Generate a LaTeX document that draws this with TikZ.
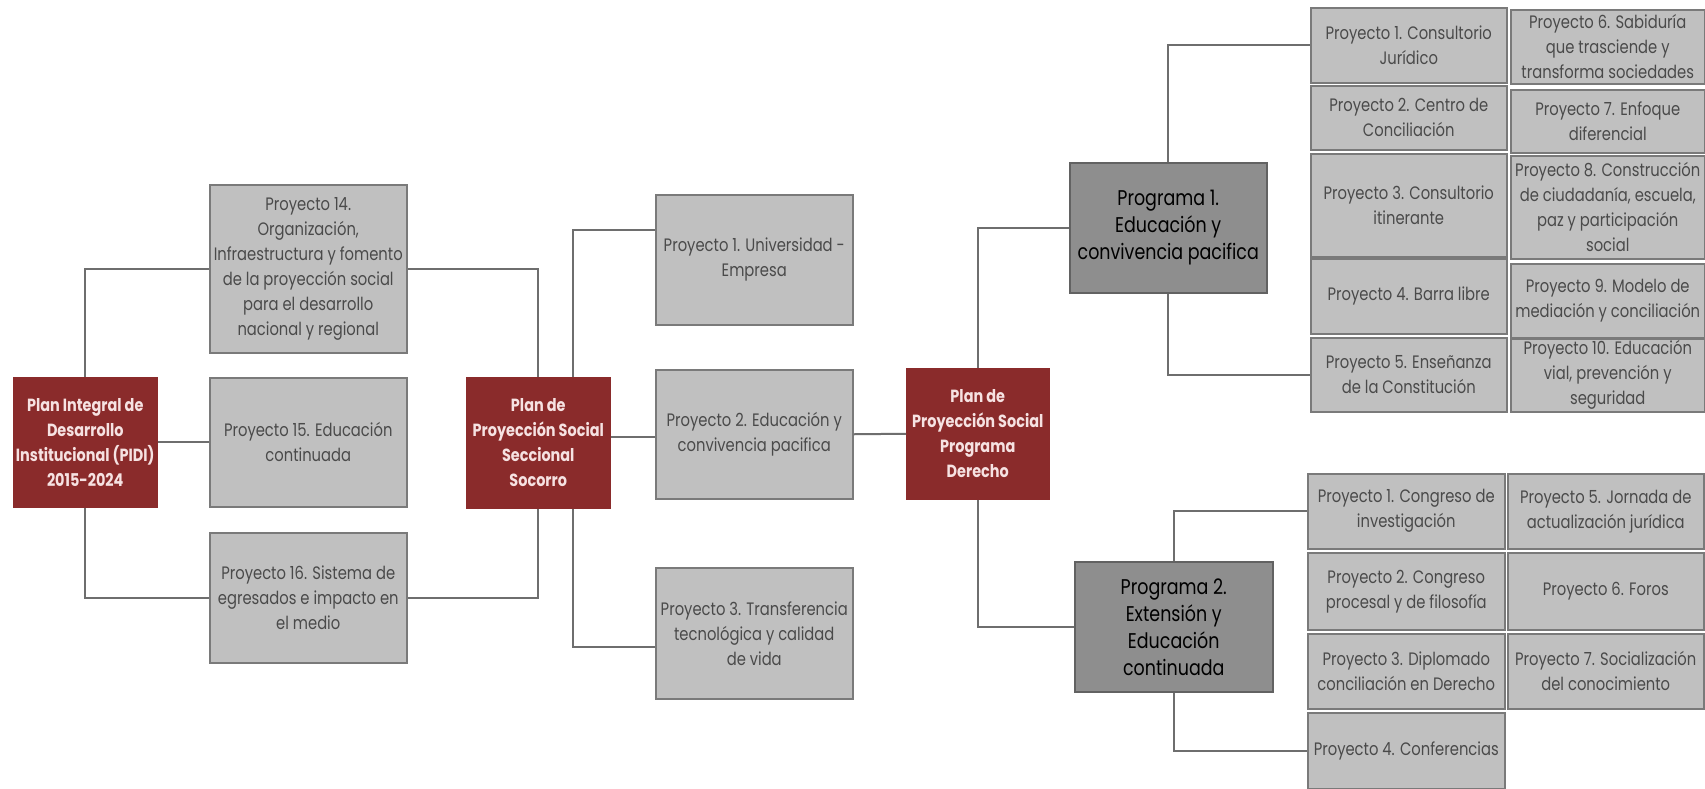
\documentclass[tikz,border=0pt]{standalone}
\usepackage{fontspec}
\setmainfont{Poppins}[FakeStretch=0.82]
\definecolor{maroon}{HTML}{8A2B2B}
\definecolor{pinkwhite}{HTML}{F6E2E2}
\definecolor{boxgray}{HTML}{C0C0C0}
\definecolor{boxedge}{HTML}{7A7A7A}
\definecolor{progray}{HTML}{8E8E8E}
\definecolor{lingray}{HTML}{6E6E6E}
\definecolor{projtext}{HTML}{4A4A4A}
\tikzset{
  base/.style={anchor=north west, inner sep=2pt, align=center, line width=1.5pt},
  proj/.style={base, fill=boxgray, draw=boxedge, text=projtext,
    font=\fontsize{18}{25}\selectfont},
  redbox/.style={base, fill=maroon, draw=maroon, text=pinkwhite,
    font=\fontsize{17.6}{25}\selectfont\bfseries},
  progbox/.style={base, fill=progray, draw=boxedge!80!black, text=black,
    font=\fontsize{21.3}{27}\selectfont},
  link/.style={draw=lingray, line width=2pt}
}
\newcommand{\bx}[6]{\node[#1, minimum width=#4pt, minimum height=#5pt] (#2) at (#3) {#6};}
\begin{document}
\begin{tikzpicture}[x=1pt,y=-1pt]
\useasboundingbox[fill=white] (0,0) rectangle (1705,788);
% level 1
\bx{redbox}{pidi}{13,377}{143}{129}{Plan Integral de\\Desarrollo\\Institucional (PIDI)\\2015-2024}
\bx{proj}{p14}{209,184}{197}{168}{Proyecto 14.\\Organización,\\Infraestructura y fomento\\de la proyección social\\para el desarrollo\\nacional y regional}
\bx{proj}{p15}{209,377}{197}{129}{Proyecto 15. Educación\\continuada}
\bx{proj}{p16}{209,532}{197}{130}{Proyecto 16. Sistema de\\egresados e impacto en\\el medio}
% level 2
\bx{redbox}{soc}{466,377}{143}{130}{Plan de\\Proyección Social\\Seccional\\Socorro}
\bx{proj}{u1}{655,194}{197}{130}{Proyecto 1. Universidad -\\Empresa}
\bx{proj}{u2}{655,369}{197}{129}{Proyecto 2. Educación y\\convivencia pacifica}
\bx{proj}{u3}{655,567}{197}{131}{Proyecto 3. Transferencia\\tecnológica y calidad\\de vida}
% level 3
\bx{redbox}{der}{906,368}{142}{130}{Plan de\\Proyección Social\\Programa\\Derecho}
\bx{progbox}{prog1}{1069,162}{197}{130}{Programa 1.\\Educación y\\convivencia pacifica}
\bx{progbox}{prog2}{1074,561}{198}{130}{Programa 2.\\Extensión y\\Educación\\continuada}
% programa 1 projects
\bx{proj}{a1}{1310,7}{196}{75}{Proyecto 1. Consultorio\\Jurídico}
\bx{proj}{a2}{1310,85}{196}{64}{Proyecto 2. Centro de\\Conciliación}
\bx{proj}{a3}{1310,153}{196}{103}{Proyecto 3. Consultorio\\itinerante}
\bx{proj}{a4}{1310,258}{196}{75}{Proyecto 4. Barra libre}
\bx{proj}{a5}{1310,337}{196}{74}{Proyecto 5. Enseñanza\\de la Constitución}
\bx{proj}{b6}{1510,9}{194}{74}{Proyecto 6. Sabiduría\\que  trasciende y\\transforma sociedades}
\bx{proj}{b7}{1510,89}{194}{63}{Proyecto 7. Enfoque\\diferencial}
\bx{proj}{b8}{1510,155}{194}{103}{Proyecto 8. Construcción\\de ciudadanía, escuela,\\paz y participación\\social}
\bx{proj}{b9}{1510,263}{194}{74}{Proyecto 9. Modelo de\\mediación y conciliación}
\bx{proj}{b10}{1510,338}{194}{73}{Proyecto 10. Educación\\vial, prevención y\\seguridad}
% programa 2 projects
\bx{proj}{c1}{1307,473}{197}{75}{Proyecto 1. Congreso de\\investigación}
\bx{proj}{c2}{1307,552}{197}{77}{Proyecto 2. Congreso\\procesal y de filosofía}
\bx{proj}{c3}{1307,633}{197}{75}{Proyecto 3. Diplomado\\conciliación en Derecho}
\bx{proj}{c4}{1307,712}{197}{76}{Proyecto 4. Conferencias}
\bx{proj}{d5}{1507,473}{196}{75}{Proyecto 5. Jornada de\\actualización jurídica}
\bx{proj}{d6}{1507,552}{196}{77}{Proyecto 6. Foros}
\bx{proj}{d7}{1507,633}{196}{75}{Proyecto 7. Socialización\\del conocimiento}
% connectors
\coordinate (sx) at (573,0);
\coordinate (s1) at (0,230);
\coordinate (s2) at (0,437);
\coordinate (s3) at (0,647);
\draw[link] (pidi.north) |- (p14.west);
\draw[link] (pidi.east) -- (p15.west);
\draw[link] (pidi.south) |- (p16.west);
\draw[link] (p14.east) -| (soc.north);
\draw[link] (p16.east) -| (soc.south);
\draw[link] (soc.north -| sx) |- (u1.west |- s1);
\draw[link] (soc.east |- s2) -- (u2.west |- s2);
\draw[link] (soc.south -| sx) |- (u3.west |- s3);
\draw[link] (u2.east) -- (der.west);
\draw[link] (der.north) |- (prog1.west);
\draw[link] (der.south) |- (prog2.west);
\draw[link] (prog1.north) |- (a1.west);
\draw[link] (prog1.south) |- (a5.west);
\draw[link] (prog2.north) |- (c1.west);
\draw[link] (prog2.south) |- (c4.west);
\end{tikzpicture}
\end{document}
